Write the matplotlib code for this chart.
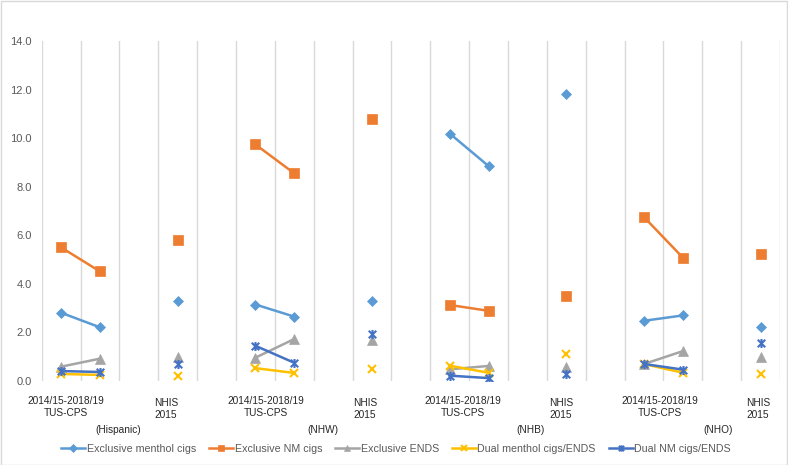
import numpy as np
import matplotlib.pyplot as plt
from matplotlib.path import Path

# groups and the three time points in each
groups = ['(Hispanic)', '(NHW)', '(NHB)', '(NHO)']
cps_label = '2014/15-2018/19\nTUS-CPS'
nhis_label = 'NHIS\n2015'

series_names = ['Exclusive menthol cigs', 'Exclusive NM cigs', 'Exclusive ENDS',
                'Dual menthol cigs/ENDS', 'Dual NM cigs/ENDS']

# values per group: Hispanic, NHW, NHB, NHO
menthol_cps1 = [2.81, 3.15, 10.19, 2.48]
menthol_cps2 = [2.21, 2.65, 8.85, 2.70]
menthol_nhis = [3.30, 3.30, 11.80, 2.21]

nm_cps1 = [5.50, 9.74, 3.13, 6.75]
nm_cps2 = [4.51, 8.55, 2.89, 5.08]
nm_nhis = [5.80, 10.80, 3.50, 5.21]

ends_cps1 = [0.59, 0.96, 0.48, 0.70]
ends_cps2 = [0.92, 1.73, 0.62, 1.23]
ends_nhis = [1.00, 1.69, 0.59, 1.00]

dual_m_cps1 = [0.29, 0.53, 0.63, 0.70]
dual_m_cps2 = [0.25, 0.33, 0.34, 0.34]
dual_m_nhis = [0.22, 0.51, 1.10, 0.30]

dual_nm_cps1 = [0.41, 1.45, 0.22, 0.70]
dual_nm_cps2 = [0.37, 0.75, 0.12, 0.47]
dual_nm_nhis = [0.70, 1.92, 0.30, 1.58]


def build(cps1, cps2, nhis):
    # category layout per group: cps1, cps2, blank, nhis, blank (last group has no trailing blank)
    vals = []
    for i in range(len(groups)):
        vals += [cps1[i], cps2[i], np.nan, nhis[i]]
        if i < len(groups) - 1:
            vals.append(np.nan)
    return np.array(vals, dtype=float)


# Excel style star marker: x with a vertical bar
star = Path([(-1, -1), (1, 1), (-1, 1), (1, -1), (0, -1.2), (0, 1.2)],
            [Path.MOVETO, Path.LINETO, Path.MOVETO, Path.LINETO, Path.MOVETO, Path.LINETO])

series = [
    (build(menthol_cps1, menthol_cps2, menthol_nhis), '#5B9BD5', 'D', 5.5),
    (build(nm_cps1, nm_cps2, nm_nhis), '#ED7D31', 's', 6.5),
    (build(ends_cps1, ends_cps2, ends_nhis), '#A5A5A5', '^', 6.5),
    (build(dual_m_cps1, dual_m_cps2, dual_m_nhis), '#FFC000', 'x', 5.5),
    (build(dual_nm_cps1, dual_nm_cps2, dual_nm_nhis), '#4472C4', star, 6.5),
]

plt.rcParams['font.family'] = ['Liberation Sans', 'DejaVu Sans']

fig = plt.figure(figsize=(7.88, 4.65), dpi=100)
ax = fig.add_axes([41.7 / 788, 1 - 381 / 465, (780 - 41.7) / 788, 340 / 465])

n = len(series[0][0])
x = np.arange(n)
for (vals, color, marker, ms), name in zip(series, series_names):
    unfilled = marker == 'x' or marker is star
    ax.plot(x, vals, color=color, lw=1.8, marker=marker, markersize=ms,
            markerfacecolor='none' if unfilled else color,
            markeredgecolor=color, markeredgewidth=1.5 if unfilled else 0.5,
            label=name)

ax.set_xlim(-0.5, n - 0.5)
ax.set_ylim(0, 14)
ax.set_yticks(np.arange(0, 14.1, 2))
ax.set_yticklabels([f'{v:.1f}' for v in np.arange(0, 14.1, 2)])
ax.tick_params(axis='y', length=0, labelsize=8, labelcolor='#595959', pad=7)
ax.set_xticks([])
for b in np.arange(-0.5, n, 1.0):
    ax.axvline(b, color='#D9D9D9', lw=1, zorder=0)
for s in ax.spines.values():
    s.set_visible(False)

# category and group labels (placed like the text boxes in the original)
cps_pos = [0.13, 5.27, 10.34, 15.41]
nhis_pos = [2.70, 7.82, 12.86, 17.93]
group_pos = [1.47, 6.74, 12.07, 16.9]
trans = ax.get_xaxis_transform()
for i in range(len(groups)):
    ax.text(cps_pos[i], -0.077, cps_label, transform=trans, ha='center', va='center',
            fontsize=7.3, color='#262626', linespacing=1.25)
    ax.text(nhis_pos[i], -0.083, nhis_label, transform=trans, ha='center', va='center',
            fontsize=7.3, color='#262626', linespacing=1.25)
    ax.text(group_pos[i], -0.143, groups[i], transform=trans, ha='center', va='center',
            fontsize=7.3, color='#262626')

fig.legend(loc='center', bbox_to_anchor=(396 / 788, 1 - 449 / 465), ncol=5,
           frameon=False, fontsize=7.7, labelcolor='#595959', handlelength=2.25,
           handletextpad=0.15, columnspacing=1.2, borderaxespad=0, markerscale=0.7)

# light chart border
fig.patches.append(plt.Rectangle((0.0008, 0.001), 0.998, 0.997, transform=fig.transFigure,
                                 fill=False, edgecolor='#D9D9D9', lw=1))

fig.savefig('out.png', dpi=100)
